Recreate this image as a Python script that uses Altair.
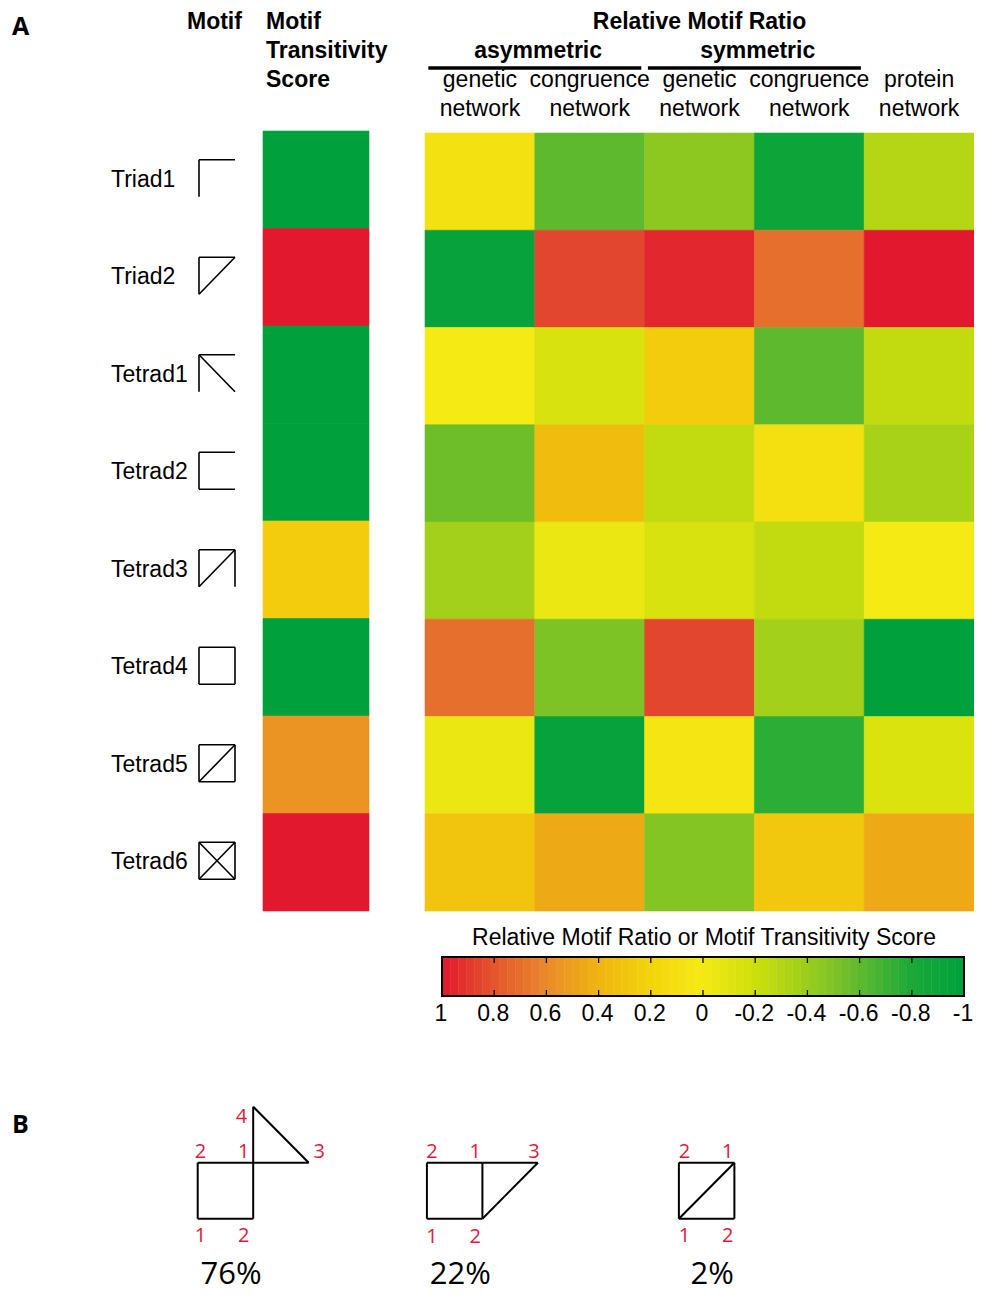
import altair as alt
import pandas as pd

# ---------------- data ----------------
motifs = ["Triad1", "Triad2", "Tetrad1", "Tetrad2", "Tetrad3", "Tetrad4", "Tetrad5", "Tetrad6"]
transitivity = [-1.0, 1.0, -1.0, -1.0, 0.25, -1.0, 0.55, 1.0]

networks = ["asym_genetic", "asym_congruence", "sym_genetic", "sym_congruence", "protein"]
network_line1 = ["genetic", "congruence", "genetic", "congruence", "protein"]
network_line2 = ["network", "network", "network", "network", "network"]

asym_genetic = [0.08, -0.95, 0.0, -0.55, -0.37, 0.70, -0.05, 0.30]
asym_congruence = [-0.60, 0.85, -0.15, 0.35, -0.05, -0.50, -0.95, 0.45]
sym_genetic = [-0.45, 0.95, 0.25, -0.25, -0.15, 0.85, 0.05, -0.48]
sym_congruence = [-0.90, 0.70, -0.60, 0.10, -0.25, -0.37, -0.75, 0.28]
protein = [-0.30, 1.00, -0.25, -0.35, 0.00, -1.00, -0.13, 0.45]

groups = ["asymmetric", "symmetric"]
group_start = [0, 2]
group_end = [2, 4]

cbar_ticks = [1, 0.8, 0.6, 0.4, 0.2, 0, -0.2, -0.4, -0.6, -0.8, -1]
cbar_labels = ["1", "0.8", "0.6", "0.4", "0.2", "0", "-0.2", "-0.4", "-0.6", "-0.8", "-1"]

# motif glyph edges (T top, L left, R right, B bottom, D / diagonal, E \ diagonal)
glyph_edges = ["TL", "TLD", "TLE", "TLB", "TLRD", "TLRB", "TLRBD", "TLRBDE"]

b_percent = ["76%", "22%", "2%"]

# ---------------- style / layout ----------------
W, H = 966, 1287
FONT = "Liberation Sans"
FONT_B = "Open Sans"
RED = "#e2183a"

cscale = alt.Scale(
    domain=[-1, -0.8, -0.6, -0.4, -0.2, 0, 0.2, 0.4, 0.6, 0.8, 1],
    range=["#00a03c", "#1aa938", "#5fb92f", "#9ccd1c", "#cddf0c", "#f5ea14",
           "#f3d40c", "#efb50f", "#e9892b", "#e4552e", "#e1182e"],
    interpolate="rgb",
)

ROW_RANGE = [123, 903]
ROW_RANGE_R = [125, 903]
RATIO_X = [417, 966]
TRANS_X = [255, 361]


def band(field, domain, rng):
    return alt.Scale(domain=domain, range=rng, paddingInner=0, paddingOuter=0)


def qs(domain, rng):
    return alt.Scale(domain=domain, range=rng, nice=False, zero=False)


# ---------------- tables ----------------
df_t = pd.DataFrame({"motif": motifs, "value": transitivity, "col": ["score"] * len(motifs)})

ratio_vals = [asym_genetic, asym_congruence, sym_genetic, sym_congruence, protein]
df_r = pd.DataFrame(
    [{"motif": m, "network": n, "value": v}
     for n, vals in zip(networks, ratio_vals) for m, v in zip(motifs, vals)]
)

df_cols = pd.DataFrame({"network": networks, "l1": network_line1, "l2": network_line2})
df_groups = pd.DataFrame({"group": groups, "start": group_start, "end": group_end})
df_groups["mid"] = (df_groups["start"] + df_groups["end"]) / 2 + 0.03
df_groups["s"] = df_groups["start"] + 0.03
df_groups["e"] = df_groups["end"] - 0.03

edge_geom = {"T": (0, 0, 1, 0), "L": (0, 0, 0, 1), "R": (1, 0, 1, 1),
             "B": (0, 1, 1, 1), "D": (0, 1, 1, 0), "E": (0, 0, 1, 1)}
seg = []
for i, (m, edges) in enumerate(zip(motifs, glyph_edges)):
    for e in edges:
        x1, y1, x2, y2 = edge_geom[e]
        seg.append({"motif": m, "x1": x1, "x2": x2,
                    "y1": i + 0.485 + (y1 - 0.5) * 0.38,
                    "y2": i + 0.485 + (y2 - 0.5) * 0.38})
df_seg = pd.DataFrame(seg)

df_lab = pd.DataFrame({"motif": motifs})

# colorbar bands (legend sampling of the colour scale)
NB = 64
bands = []
for k in range(NB):
    v0 = 1 - 2 * k / NB
    v1 = 1 - 2 * (k + 1) / NB
    bands.append({"v0": v0, "v1": v1, "vm": (v0 + v1) / 2})
df_bands = pd.DataFrame(bands)
df_ticks = pd.DataFrame({"t": cbar_ticks, "label": cbar_labels})
df_border = pd.DataFrame({"a": [1], "b": [-1]})

# panel B geometry (unit square coordinates, y up)
SQ = [(0, 0, 1, 0), (1, 0, 1, 1), (1, 1, 0, 1), (0, 1, 0, 0)]
b_shapes = [SQ + [(1, 1, 1, 2), (1, 2, 2, 1), (1, 1, 2, 1)],
            SQ + [(1, 1, 2, 1), (2, 1, 1, 0)],
            SQ + [(0, 0, 1, 1)]]
b_node_labels = [
    [("2", 0, 1, 0.05, 0.2), ("1", 1, 1, -0.17, 0.2), ("4", 1, 2, -0.21, -0.18),
     ("3", 2, 1, 0.19, 0.2), ("1", 0, 0, 0.05, -0.31), ("2", 1, 0, -0.17, -0.31)],
    [("2", 0, 1, 0.09, 0.19), ("1", 1, 1, -0.13, 0.19), ("3", 2, 1, -0.07, 0.19),
     ("1", 0, 0, 0.09, -0.33), ("2", 1, 0, -0.13, -0.33)],
    [("2", 0, 1, 0.1, 0.2), ("1", 1, 1, -0.12, 0.2),
     ("1", 0, 0, 0.1, -0.31), ("2", 1, 0, -0.12, -0.31)],
]
b_origin = [0, 4.13, 8.67]
b_rows, b_lrows, b_prows = [], [], []
for j, shape in enumerate(b_shapes):
    for (x1, y1, x2, y2) in shape:
        b_rows.append({"x1": b_origin[j] + x1, "y1": y1, "x2": b_origin[j] + x2, "y2": y2})
    for (t, nx, ny, ox, oy) in b_node_labels[j]:
        b_lrows.append({"t": t, "x": b_origin[j] + nx + ox, "y": ny + oy})
    b_prows.append({"t": b_percent[j], "x": b_origin[j] + 0.6, "y": -1.0})
df_b = pd.DataFrame(b_rows)
df_bl = pd.DataFrame(b_lrows)
df_bp = pd.DataFrame(b_prows)

BX = qs([0, 1], [189.7, 245.2])
BY = qs([0, 1], [1210.7, 1154.7])

# ---------------- layers ----------------
trans_layer = alt.Chart(df_t).mark_rect(strokeWidth=0.6).encode(
    x=alt.X("col:N", scale=band("col", ["score"], TRANS_X), axis=None),
    y=alt.Y("motif:N", scale=band("motif", motifs, ROW_RANGE), axis=None),
    color=alt.Color("value:Q", scale=cscale, legend=None),
    stroke=alt.Stroke("value:Q", scale=cscale, legend=None),
)

ratio_layer = alt.Chart(df_r).mark_rect(strokeWidth=0.6).encode(
    x=alt.X("network:N", scale=band("network", networks, RATIO_X), axis=None),
    y=alt.Y("motif:N", scale=band("motif", motifs, ROW_RANGE_R), axis=None),
    color=alt.Color("value:Q", scale=cscale, legend=None),
    stroke=alt.Stroke("value:Q", scale=cscale, legend=None),
)

label_layer = alt.Chart(df_lab).mark_text(
    align="left", baseline="middle", font=FONT, fontSize=23, color="black"
).encode(
    x=alt.value(103),
    y=alt.Y("motif:N", scale=band("motif", motifs, ROW_RANGE), axis=None),
    text="motif:N",
)

glyph_layer = alt.Chart(df_seg).mark_rule(color="black", strokeWidth=1.6).encode(
    x=alt.X("x1:Q", scale=qs([0, 1], [191, 227]), axis=None),
    x2="x2:Q",
    y=alt.Y("y1:Q", scale=qs([0, 8], ROW_RANGE), axis=None),
    y2="y2:Q",
)

col_l1 = alt.Chart(df_cols).mark_text(
    align="center", baseline="middle", font=FONT, fontSize=23
).encode(
    x=alt.X("network:N", scale=band("network", networks, RATIO_X), axis=None),
    y=alt.value(72),
    text="l1:N",
)
col_l2 = alt.Chart(df_cols).mark_text(
    align="center", baseline="middle", font=FONT, fontSize=23
).encode(
    x=alt.X("network:N", scale=band("network", networks, RATIO_X), axis=None),
    y=alt.value(101),
    text="l2:N",
)

COLQ = qs([0, 5], RATIO_X)
group_text = alt.Chart(df_groups).mark_text(
    align="center", baseline="middle", font=FONT, fontSize=23, fontWeight="bold"
).encode(
    x=alt.X("mid:Q", scale=COLQ, axis=None),
    y=alt.value(43),
    text="group:N",
)
group_rule = alt.Chart(df_groups).mark_rule(color="black", strokeWidth=3.5).encode(
    x=alt.X("s:Q", scale=COLQ, axis=None),
    x2="e:Q",
    y=alt.value(60),
)

ratio_title = alt.Chart(pd.DataFrame({"t": ["Relative Motif Ratio"], "c": [2.5]})).mark_text(
    align="center", baseline="middle", font=FONT, fontSize=23, fontWeight="bold"
).encode(x=alt.X("c:Q", scale=COLQ, axis=None), y=alt.value(14), text="t:N")


def txt(text, x, y, size=23, weight="bold", align="left", font=FONT, color="black"):
    return alt.Chart(pd.DataFrame({"t": [text]})).mark_text(
        align=align, baseline="middle", font=font, fontSize=size,
        fontWeight=weight, color=color
    ).encode(x=alt.value(x), y=alt.value(y), text="t:N")


headers = [
    txt("A", 4, 19, size=25, font=FONT_B),
    txt("Motif", 179, 14),
    txt("Motif", 258, 14),
    txt("Transitivity", 258, 43),
    txt("Score", 258, 72),
    txt("B", 4, 1117, size=25, font=FONT_B),
    txt("Relative Motif Ratio or Motif Transitivity Score", 696, 930,
        weight="normal", align="center"),
]

CBX = qs([1, -1], [434, 956])
cbar_bands = alt.Chart(df_bands).mark_rect(strokeWidth=0.5).encode(
    x=alt.X("v0:Q", scale=CBX, axis=None),
    x2="v1:Q",
    y=alt.value(949),
    y2=alt.value(988),
    color=alt.Color("vm:Q", scale=cscale, legend=None),
    stroke=alt.Stroke("vm:Q", scale=cscale, legend=None),
)
cbar_border = alt.Chart(df_border).mark_rect(
    fillOpacity=0, stroke="black", strokeWidth=2
).encode(
    x=alt.X("a:Q", scale=CBX, axis=None), x2="b:Q",
    y=alt.value(949), y2=alt.value(988),
)
cbar_tick_top = alt.Chart(df_ticks).mark_rule(color="black", strokeWidth=1.3).encode(
    x=alt.X("t:Q", scale=CBX, axis=None), y=alt.value(949), y2=alt.value(955),
)
cbar_tick_bot = alt.Chart(df_ticks).mark_rule(color="black", strokeWidth=1.3).encode(
    x=alt.X("t:Q", scale=CBX, axis=None), y=alt.value(982), y2=alt.value(988),
)
cbar_labels_layer = alt.Chart(df_ticks).mark_text(
    align="center", baseline="middle", font=FONT, fontSize=23, dx=-1
).encode(
    x=alt.X("t:Q", scale=CBX, axis=None), y=alt.value(1006), text="label:N",
)

b_lines = alt.Chart(df_b).mark_rule(color="black", strokeWidth=2).encode(
    x=alt.X("x1:Q", scale=BX, axis=None), x2="x2:Q",
    y=alt.Y("y1:Q", scale=BY, axis=None), y2="y2:Q",
)
b_node = alt.Chart(df_bl).mark_text(
    align="center", baseline="middle", font=FONT_B, fontSize=20, color=RED
).encode(
    x=alt.X("x:Q", scale=BX, axis=None),
    y=alt.Y("y:Q", scale=BY, axis=None),
    text="t:N",
)
b_pct = alt.Chart(df_bp).mark_text(
    align="center", baseline="middle", font=FONT_B, fontSize=31, color="black"
).encode(
    x=alt.X("x:Q", scale=BX, axis=None),
    y=alt.Y("y:Q", scale=BY, axis=None),
    text="t:N",
)

layers = [trans_layer, ratio_layer, label_layer, glyph_layer, col_l1, col_l2,
          group_text, group_rule, ratio_title] + headers + [
    cbar_bands, cbar_border, cbar_tick_top, cbar_tick_bot, cbar_labels_layer,
    b_lines, b_node, b_pct]

chart = alt.layer(*layers).resolve_scale(
    x="independent", y="independent"
).properties(
    width=W, height=H, padding=0, autosize=alt.AutoSizeParams(type="none"),
    background="white",
).configure_view(stroke=None)

chart.save("out.html", embed_options={"renderer": "svg", "actions": False})
